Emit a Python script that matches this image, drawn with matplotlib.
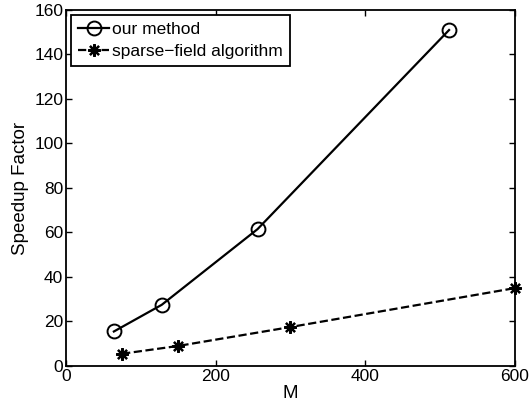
import matplotlib
matplotlib.use("Agg")
import matplotlib.pyplot as plt

# data
m_ours = [64, 128, 256, 512]
speedup_ours = [15.5, 27.5, 61.5, 151]
m_sparse = [75, 150, 300, 600]
speedup_sparse = [5.5, 9, 17.5, 35]

plt.rcParams['font.family'] = ['Liberation Sans', 'DejaVu Sans']

fig = plt.figure(figsize=(5.3, 4.08), dpi=100)
ax = fig.add_axes([0.1245, 0.103, 0.847, 0.8725])

ax.plot(m_ours, speedup_ours, '-', color='black', lw=1.6, marker='o',
        markersize=10, markerfacecolor='none', markeredgewidth=1.4, label='our method', clip_on=False)
ax.plot(m_sparse, speedup_sparse, '--', color='black', lw=1.6, marker=(8, 2, 0),
        markersize=9, markeredgewidth=1.6, label='sparse\u2212field algorithm', clip_on=False)

ax.set_xlim(0, 600)
ax.set_ylim(0, 160)
ax.set_xticks([0, 200, 400, 600])
ax.set_yticks(range(0, 161, 20))
ax.tick_params(direction='in', top=True, right=True, labelsize=12.5, length=4, width=1, pad=2)
for s in ax.spines.values():
    s.set_linewidth(1.3)

ax.set_xlabel('M', fontsize=13.5, labelpad=1)
ax.set_ylabel('Speedup Factor', fontsize=13.5, labelpad=4)

leg = ax.legend(loc='upper left', fontsize=12.5, fancybox=False, framealpha=1,
                edgecolor='black', handlelength=1.8, handletextpad=0.15,
                borderpad=0.4, labelspacing=0.4, borderaxespad=0.3)
leg.get_frame().set_linewidth(1.3)

fig.savefig('out.png', dpi=100)
